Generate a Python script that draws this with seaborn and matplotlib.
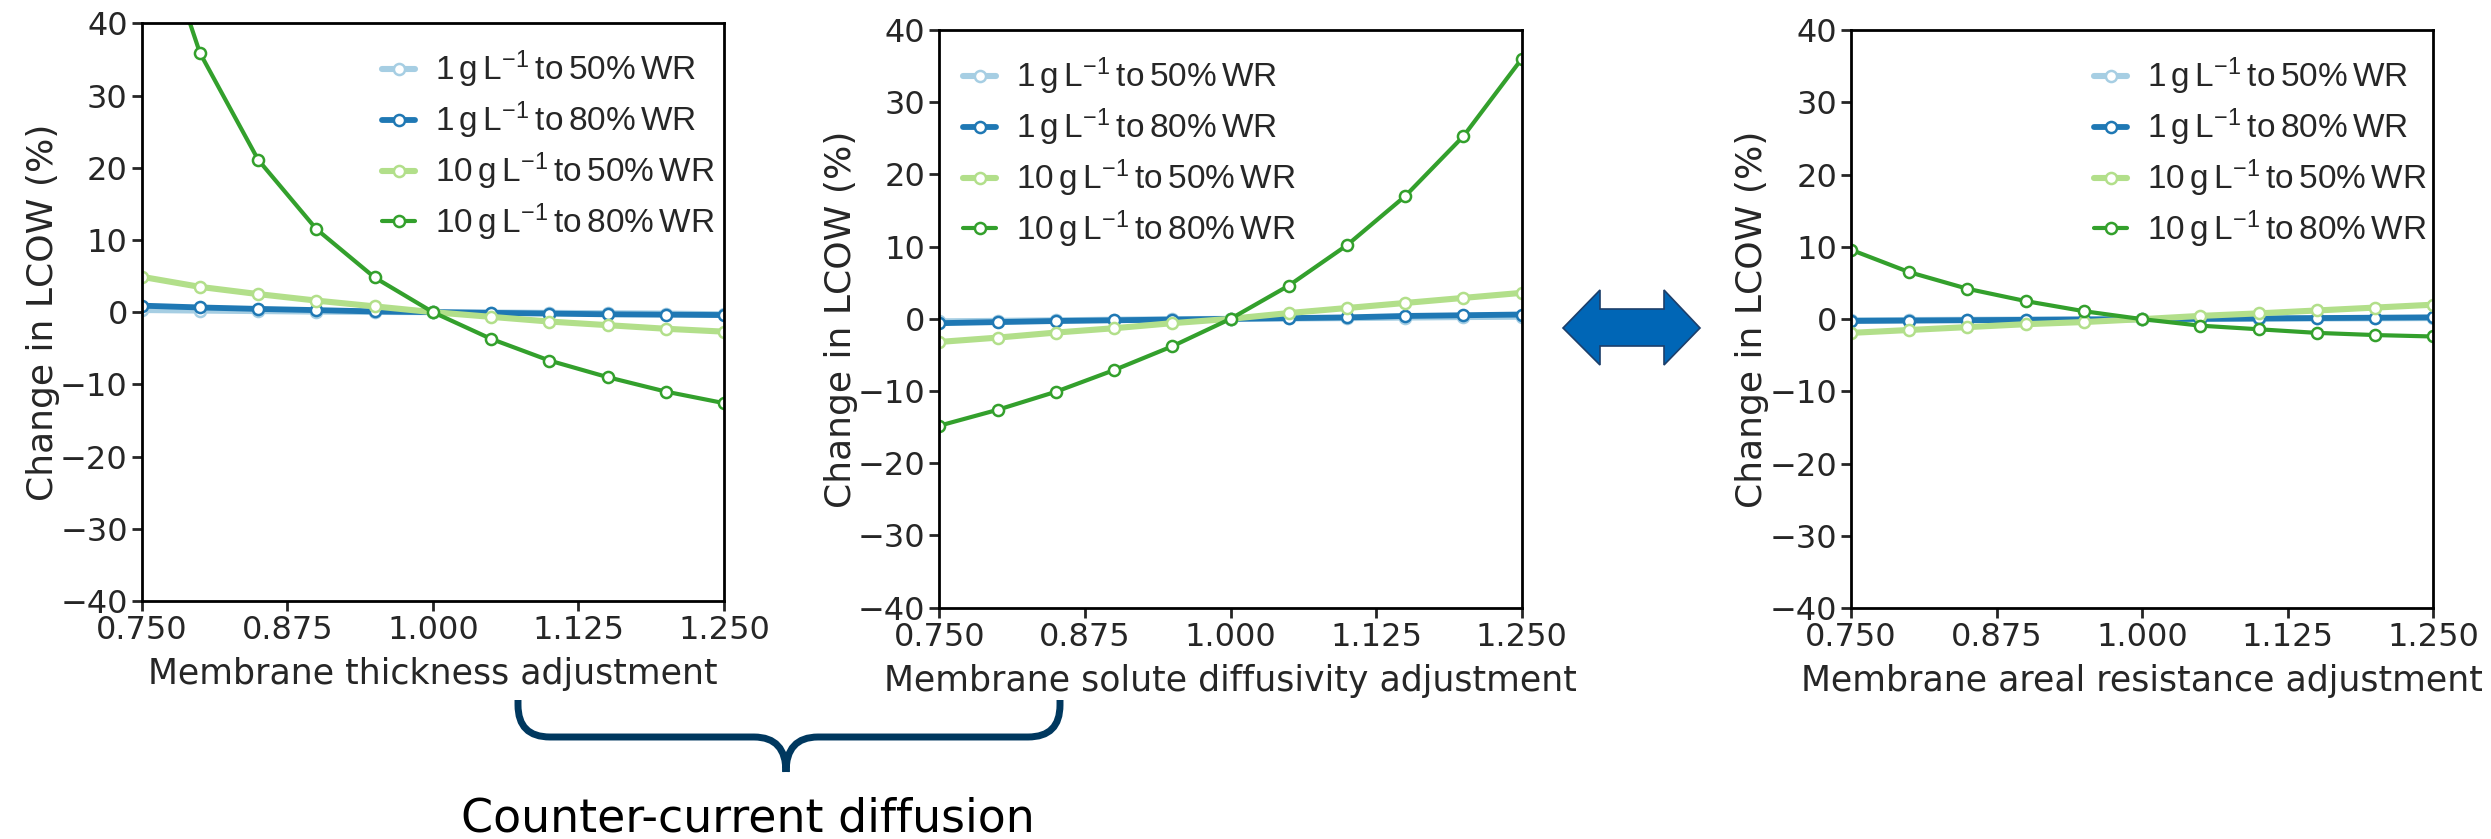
import numpy as np
import pandas as pd
import seaborn as sns
import matplotlib
matplotlib.use("Agg")
import matplotlib.pyplot as plt
from matplotlib import font_manager
from matplotlib.path import Path
from matplotlib.patches import PathPatch, Polygon
from matplotlib.ticker import FixedLocator, FormatStrFormatter

# ---------------- data ----------------
adjustment = [0.75, 0.80, 0.85, 0.90, 0.95, 1.00, 1.05, 1.10, 1.15, 1.20, 1.25]

series_labels = [r"$\mathregular{1\,g\,L^{-1}\,to\,50\%\,WR}$",
                 r"$\mathregular{1\,g\,L^{-1}\,to\,80\%\,WR}$",
                 r"$\mathregular{10\,g\,L^{-1}\,to\,50\%\,WR}$",
                 r"$\mathregular{10\,g\,L^{-1}\,to\,80\%\,WR}$"]

# Membrane thickness adjustment
thick_1g_50 = [0.3, 0.22, 0.15, 0.08, 0.03, 0.0, -0.05, -0.1, -0.15, -0.2, -0.3]
thick_1g_80 = [0.9, 0.65, 0.45, 0.28, 0.1, 0.0, -0.1, -0.2, -0.3, -0.35, -0.4]
thick_10g_50 = [4.9, 3.5, 2.5, 1.6, 0.8, 0.0, -0.65, -1.3, -1.8, -2.3, -2.7]
thick_10g_80 = [60.0, 35.9, 21.1, 11.5, 4.8, 0.0, -3.7, -6.7, -9.0, -11.0, -12.6]

# Membrane solute diffusivity adjustment
diff_1g_50 = [-0.35, -0.28, -0.2, -0.12, -0.05, 0.0, 0.05, 0.1, 0.18, 0.25, 0.3]
diff_1g_80 = [-0.6, -0.45, -0.3, -0.2, -0.1, 0.0, 0.1, 0.2, 0.4, 0.5, 0.6]
diff_10g_50 = [-3.2, -2.6, -1.9, -1.3, -0.6, 0.0, 0.8, 1.5, 2.2, 2.9, 3.6]
diff_10g_80 = [-14.8, -12.6, -10.1, -7.1, -3.8, 0.0, 4.6, 10.2, 17.0, 25.3, 36.0]

# Membrane areal resistance adjustment
area_1g_50 = [-0.15, -0.12, -0.09, -0.06, -0.03, 0.0, 0.03, 0.06, 0.09, 0.12, 0.15]
area_1g_80 = [-0.25, -0.2, -0.15, -0.1, -0.05, 0.0, 0.05, 0.1, 0.15, 0.2, 0.25]
area_10g_50 = [-1.9, -1.5, -1.1, -0.7, -0.4, 0.0, 0.45, 0.8, 1.2, 1.6, 2.0]
area_10g_80 = [9.6, 6.5, 4.2, 2.5, 1.1, 0.0, -0.9, -1.4, -1.9, -2.2, -2.4]

x_labels = ["Membrane thickness adjustment",
            "Membrane solute diffusivity adjustment",
            "Membrane areal resistance adjustment"]
y_label = "Change in LCOW (%)"
x_ticks = [0.750, 0.875, 1.000, 1.125, 1.250]
y_ticks = [-40, -30, -20, -10, 0, 10, 20, 30, 40]
annotation_text = "Counter-current diffusion"

colors = ["#a6cee3", "#1f78b4", "#b2df8a", "#33a02c"]
widths = [4.4, 4.2, 4.4, 3.0]

panels = [
    [thick_1g_50, thick_1g_80, thick_10g_50, thick_10g_80],
    [diff_1g_50, diff_1g_80, diff_10g_50, diff_10g_80],
    [area_1g_50, area_1g_80, area_10g_50, area_10g_80],
]

# ---------------- style ----------------
sns.set_style("ticks")
plt.rcParams["font.family"] = ["DejaVu Sans"]
plt.rcParams["axes.linewidth"] = 2.0
plt.rcParams["mathtext.default"] = "regular"

# pick a condensed face for the legend if one is installed
names = {f.name for f in font_manager.fontManager.ttflist}
if "Liberation Sans Narrow" in names:
    legend_font = {"family": ["Liberation Sans Narrow"], "size": 26}
elif "Liberation Sans" in names:
    legend_font = {"family": ["Liberation Sans"], "size": 24}
else:
    legend_font = {"family": ["DejaVu Sans"], "size": 21}

W, H = 2491, 839
fig = plt.figure(figsize=(W / 100, H / 100), dpi=100)

# axes rectangles in pixel coordinates (left, top, right, bottom), y measured from top
rects_px = [(141.7, 23.3, 724.0, 601.0),
            (939.3, 30.0, 1521.7, 607.7),
            (1851.0, 30.0, 2433.3, 608.3)]
legend_anchor_px = [(382, 49), (963, 56), (2094, 56)]

for i, (vals, rect) in enumerate(zip(panels, rects_px)):
    l, t, r, b = rect
    ax = fig.add_axes([l / W, 1 - b / H, (r - l) / W, (b - t) / H])
    for lab, yv, c, lw in zip(series_labels, vals, colors, widths):
        df = pd.DataFrame({"x": adjustment, "y": yv})
        sns.lineplot(data=df, x="x", y="y", ax=ax, color=c, linewidth=lw,
                     marker="o", markersize=8, markerfacecolor="white",
                     markeredgecolor=c, markeredgewidth=1.8, label=lab)
    ax.set_xlim(0.75, 1.25)
    ax.set_ylim(-40, 40)
    ax.xaxis.set_major_locator(FixedLocator(x_ticks))
    ax.xaxis.set_major_formatter(FormatStrFormatter("%.3f"))
    ax.yaxis.set_major_locator(FixedLocator(y_ticks))
    ax.tick_params(axis="both", which="major", labelsize=23, length=7, width=2,
                   direction="out", pad=3, top=False, right=False)
    for s in ax.spines.values():
        s.set_visible(True)
        s.set_linewidth(2.0)
        s.set_color("black")
    ax.set_xlabel(x_labels[i], fontsize=25, labelpad=8)
    ax.set_ylabel(y_label, fontsize=26, labelpad=0)
    ax.grid(False)
    lx, ly = legend_anchor_px[i]
    ax.legend(loc="upper left", bbox_to_anchor=(lx / W, 1 - ly / H),
              bbox_transform=fig.transFigure,
              frameon=False, prop=legend_font, handlelength=1.0, handletextpad=0.6,
              labelspacing=0.28, borderpad=0, borderaxespad=0)

# ---------------- overlay annotations ----------------
ov = fig.add_axes([0, 0, 1, 1], facecolor="none")
ov.set_xlim(0, W)
ov.set_ylim(H, 0)
ov.axis("off")

# curly brace
bx_l, bx_r, bx_c = 518, 1060, 786
by_top, by_mid, by_tip = 700, 737, 772
rad = 32
verts = [(bx_l, by_top), (bx_l, by_mid - rad), (bx_l, by_mid), (bx_l + rad, by_mid),
         (bx_c - rad, by_mid), (bx_c, by_mid), (bx_c, by_tip),
         (bx_c, by_tip), (bx_c, by_mid), (bx_c + rad, by_mid),
         (bx_r - rad, by_mid), (bx_r, by_mid), (bx_r, by_mid - rad), (bx_r, by_top)]
codes = [Path.MOVETO, Path.LINETO, Path.CURVE3, Path.CURVE3,
         Path.LINETO, Path.CURVE3, Path.CURVE3,
         Path.MOVETO, Path.CURVE3, Path.CURVE3,
         Path.LINETO, Path.CURVE3, Path.CURVE3, Path.LINETO]
ov.add_patch(PathPatch(Path(verts, codes), facecolor="none", edgecolor="#00385f",
                       linewidth=5, capstyle="butt", joinstyle="round"))

ov.text(748, 832, annotation_text, ha="center", va="baseline", fontsize=33,
        color="black")

# double-headed block arrow
arrow_pts = [(1563, 328), (1600, 290), (1600, 309), (1664, 309), (1664, 290),
             (1700, 328), (1664, 365), (1664, 346), (1600, 346), (1600, 365)]
ov.add_patch(Polygon(arrow_pts, closed=True, facecolor="#0066b6",
                     edgecolor="#1c3f6b", linewidth=1.2))

fig.savefig("out.png", dpi=100)
